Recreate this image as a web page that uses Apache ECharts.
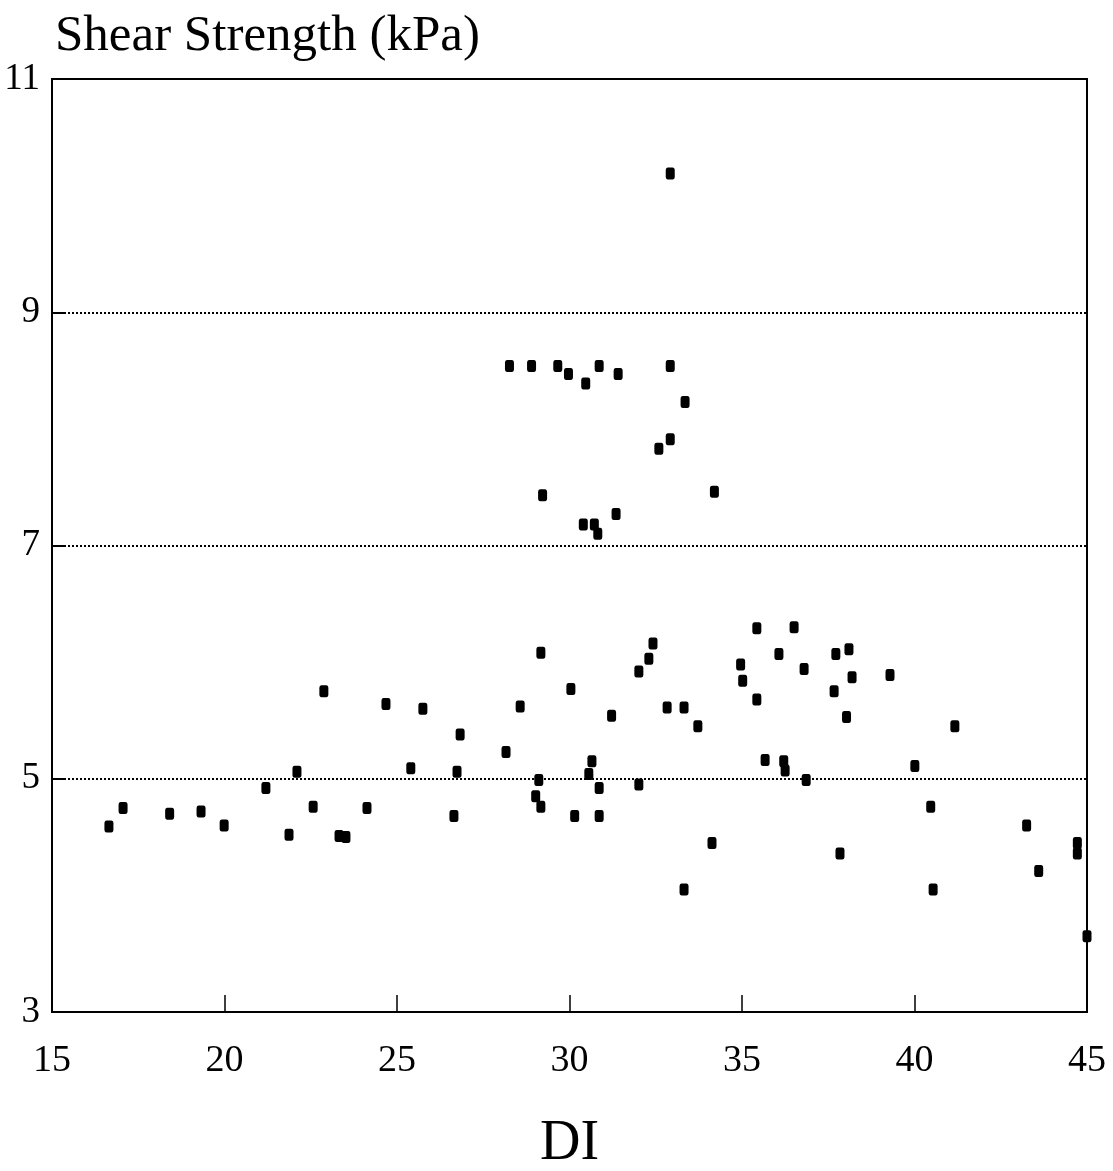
<!DOCTYPE html>
<html>
<head>
<meta charset="utf-8">
<title>Shear Strength vs DI</title>
<script src="https://cdn.jsdelivr.net/npm/echarts@6/dist/echarts.min.js"></script>
<style>
  html, body { margin: 0; padding: 0; background: #fff; }
  #chart { width: 1113px; height: 1171px; }
</style>
</head>
<body>
<div id="chart"></div>
<script>
// Disturbance index (DI) of each sample
const di = [
  16.65, 17.06, 18.41, 19.32, 19.99, 21.20, 22.10, 21.87, 22.57, 22.88,
  23.32, 23.52, 24.13, 24.68, 25.40, 25.75, 26.65, 26.74, 26.83, 28.16,
  28.57, 28.26, 28.90, 29.02, 29.11, 29.17, 29.17, 29.22, 29.66, 29.97,
  30.04, 30.15, 30.40, 30.47, 30.56, 30.65, 30.72, 30.82, 30.86, 30.86,
  30.86, 31.22, 31.41, 31.35, 32.01, 32.01, 32.30, 32.42, 32.59, 32.83,
  32.92, 32.92, 32.92, 33.35, 33.32, 33.32, 33.72, 34.20, 34.13, 34.96,
  35.02, 35.43, 35.43, 35.67, 36.07, 36.21, 36.25, 36.51, 36.80, 36.86,
  37.67, 37.72, 37.84, 38.03, 38.10, 38.19, 39.29, 40.01, 40.47, 40.54,
  41.17, 43.25, 43.60, 44.72, 44.72, 45.00
];

// Measured shear strength (kPa), same order as di
const shear = [
  4.59, 4.75, 4.70, 4.72, 4.60, 4.92, 5.06, 4.52, 4.76, 5.75,
  4.51, 4.50, 4.75, 5.64, 5.09, 5.60, 4.68, 5.06, 5.38, 5.23,
  5.62, 8.54, 8.54, 4.85, 4.99, 4.76, 6.08, 7.43, 8.54, 8.47,
  5.77, 4.68, 7.18, 8.39, 5.04, 5.15, 7.18, 7.10, 8.54, 4.92,
  4.68, 5.54, 8.47, 7.27, 5.92, 4.95, 6.03, 6.16, 7.83, 5.61,
  7.91, 8.54, 10.19, 8.23, 5.61, 4.05, 5.45, 7.46, 4.45, 5.98,
  5.84, 6.29, 5.68, 5.16, 6.07, 5.15, 5.07, 6.30, 5.94, 4.99,
  5.75, 6.07, 4.36, 5.53, 6.11, 5.87, 5.89, 5.11, 4.76, 4.05,
  5.45, 4.60, 4.21, 4.45, 4.36, 3.65
];

const xTicks = { min: 15, max: 45, step: 5 };
const yTicks = { min: 3, max: 11, step: 2 };

const points = di.map((d, i) => [d, shear[i]]);

const serif = "'Liberation Serif', 'DejaVu Serif', serif";

const chart = echarts.init(document.getElementById('chart'), null, { renderer: 'canvas' });

chart.setOption({
  backgroundColor: '#ffffff',
  animation: false,
  title: {
    text: 'Shear Strength (kPa)',
    left: 50,
    top: 6,
    textStyle: { fontFamily: serif, fontSize: 51, fontWeight: 'normal', color: '#000' }
  },
  grid: {
    left: 52, right: 26, top: 79, bottom: 159,
    containLabel: false,
    outerBoundsMode: 'none',
    show: true, borderColor: '#000', borderWidth: 2, backgroundColor: 'transparent'
  },
  xAxis: {
    type: 'value',
    min: xTicks.min, max: xTicks.max, interval: xTicks.step,
    name: 'DI',
    nameLocation: 'middle',
    nameGap: 104,
    nameTextStyle: { fontFamily: serif, fontSize: 56, color: '#000' },
    axisLine: { show: true, lineStyle: { color: '#000', width: 2 } },
    axisTick: { show: true, inside: true, length: 17, lineStyle: { color: '#000', width: 1.5 } },
    axisLabel: { margin: 30, fontFamily: serif, fontSize: 38, color: '#000' },
    splitLine: { show: false }
  },
  yAxis: {
    type: 'value',
    min: yTicks.min, max: yTicks.max, interval: yTicks.step,
    axisLine: { show: true, lineStyle: { color: '#000', width: 2 } },
    axisTick: { show: true, inside: true, length: 12, lineStyle: { color: '#000', width: 2 } },
    axisLabel: { margin: 12, fontFamily: serif, fontSize: 37, color: '#000' },
    splitLine: { show: true, lineStyle: { color: '#000', width: 2, type: [2, 2] } }
  },
  series: [{
    type: 'scatter',
    data: points,
    symbol: 'roundRect',
    symbolSize: [9, 12],
    clip: false,
    itemStyle: { color: '#000', opacity: 1 }
  }]
});
</script>
</body>
</html>
